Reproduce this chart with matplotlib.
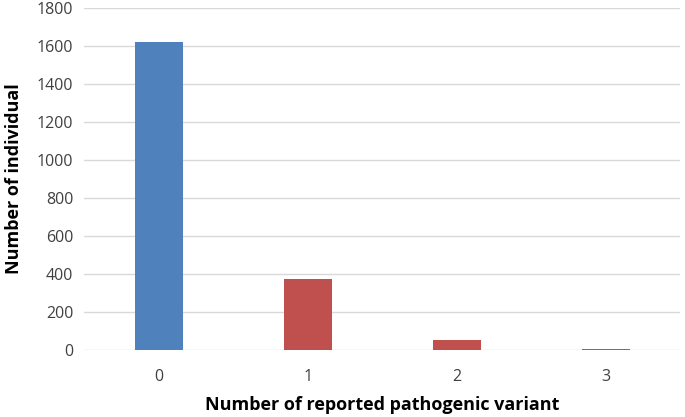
import matplotlib
matplotlib.use("Agg")
import matplotlib.pyplot as plt

categories = ["0", "1", "2", "3"]
values = [1621, 374, 53, 5]
colors = ["#4F81BD", "#C0504D", "#C0504D", "#C0504D"]
yticks = [0, 200, 400, 600, 800, 1000, 1200, 1400, 1600, 1800]

plt.rcParams['font.family'] = ['Open Sans', 'DejaVu Sans']

fig = plt.figure(figsize=(6.85, 4.17), dpi=100)
ax = fig.add_axes([0.123, 0.161, 0.870, 0.820])
x = list(range(len(categories)))
ax.bar(x, values, width=0.32, color=colors, zorder=3)
ax.set_xlim(-0.5, 3.5)
ax.set_ylim(0, 1800)
ax.set_yticks(yticks)
ax.set_xticks(x)
ax.set_xticklabels(categories)
ax.grid(axis='y', color='#D9D9D9', linewidth=1, zorder=0)
for s in ax.spines.values():
    s.set_visible(False)
ax.tick_params(length=0, labelsize=11.5, colors='#404040', pad=8)
ax.tick_params(axis='x', pad=14)
ax.set_xlabel("Number of reported pathogenic variant", fontsize=13, fontweight='bold', labelpad=8)
ax.set_ylabel("Number of individual", fontsize=13, fontweight='bold', labelpad=10)
fig.savefig("out.png", dpi=100)
